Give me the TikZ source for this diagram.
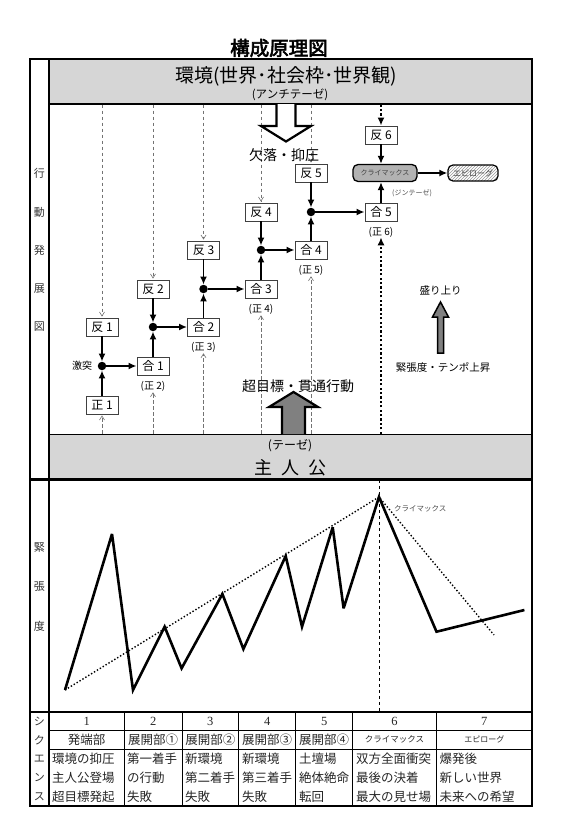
\documentclass[tikz,border=0pt]{standalone}
\usepackage{fontspec}
\setmainfont{Noto Sans CJK JP}
\newfontfamily\titlefont[FakeBold=3]{Noto Sans CJK JP}
\newfontfamily\numfont{Liberation Serif}
\usetikzlibrary{arrows.meta,positioning,patterns}
\tikzstyle{post}=[-{Latex[length=8pt,width=7pt]},line width=1.8pt]
\tikzstyle{fatdot}=[-{Latex[length=8pt,width=7pt]},line width=2.2pt,dash pattern=on 2.2pt off 2.2pt]
\tikzstyle{guide}=[-{Straight Barb[length=4pt,width=5pt]},black!55,line width=0.6pt,dash pattern=on 3.5pt off 2.5pt,shorten >=1pt]
\tikzstyle{box}=[draw=black!75,line width=0.9pt,fill=white,minimum width=32pt,minimum height=18pt,inner sep=0pt,font=\fontsize{12}{12}\selectfont]
\tikzstyle{dot}=[circle,fill=black,inner sep=0pt,minimum size=8.5pt]
\tikzstyle{band}=[draw,line width=1.2pt,fill=black!16,minimum width=483pt,minimum height=45pt,inner sep=0pt]
\tikzstyle{climaxbox}=[draw,line width=1.3pt,rounded corners=5pt,fill=black!30,minimum width=64pt,minimum height=17pt,inner sep=0pt,font=\fontsize{7}{7}\selectfont,text=black!75]
\tikzstyle{epibox}=[draw,line width=1.2pt,rounded corners=5pt,pattern=north east lines,pattern color=black!40,minimum width=50pt,minimum height=16pt,inner sep=0pt,font=\fontsize{8}{8}\selectfont,text=black!75]
\tikzstyle{frame}=[line width=2.4pt]
\tikzstyle{rule}=[line width=0.9pt]
\tikzstyle{fatarrow}=[line width=2.2pt,line join=miter]
\tikzstyle{lbl}=[font=\fontsize{10}{10}\selectfont,inner sep=0pt]
\tikzstyle{tiny}=[font=\fontsize{7}{7}\selectfont,text=black!70,inner sep=0pt]
\tikzstyle{side}=[font=\fontsize{11}{11}\selectfont,text=black!80,inner sep=0pt]
\tikzstyle{cell}=[font=\fontsize{12.5}{12.5}\selectfont,text=black!85,inner sep=0pt]
\begin{document}
\begin{tikzpicture}[x=1pt,y=-1pt,node distance=20pt]
\useasboundingbox (0,0) rectangle (567,836);
\node (title) at (279,48) {\titlefont\fontsize{19.5}{19.5}\selectfont 構成原理図};

% bands
\node (env) [band] at (290.5,81.5) {};
\node (hero) [band] at (290.5,456.8) {};
\node (envtext) at (286,76) {\fontsize{19}{19}\selectfont 環境(世界･社会枠･世界観)};
\node (anti) [font=\fontsize{11.5}{11.5}\selectfont,inner sep=0pt] at (290,95) {(アンチテーゼ)};
\node (these) [font=\fontsize{12}{12}\selectfont,inner sep=0pt] at (290,446) {(テーゼ)};
\node (herotext) at (290,468) {\fontsize{18}{18}\selectfont 主\hspace{9pt}人\hspace{9pt}公};

% side labels
\foreach \t/\y [count=\i] in {行/173,動/212,発/250,展/289,図/327,緊/548,張/587,度/626,シ/721,ク/740,エ/759,ン/778,ス/797}
  \node (side\i) [side] at (39.5,\y) {\t};

% dialectic steps
\node (s1) [box] at (102,405) {正 1};
\node (c1) [dot] at (102,366) {};
\node (h1) [box] at (102,327) {反 1};
\node (g1) [box] at (153,366) {合 1};
\node (c2) [dot] at (153,327) {};
\node (h2) [box] at (153,289) {反 2};
\node (g2) [box] at (203.5,327) {合 2};
\node (c3) [dot] at (203.5,289) {};
\node (h3) [box] at (203.5,250) {反 3};
\node (g3) [box] at (261,289) {合 3};
\node (c4) [dot] at (261,250) {};
\node (h4) [box] at (261,212) {反 4};
\node (g4) [box] at (311,250) {合 4};
\node (c5) [dot] at (311,212) {};
\node (h5) [box] at (311,173) {反 5};
\node (g5) [box] at (381,212) {合 5};
\node (h6) [box] at (381,135) {反 6};
\node (climax) [climaxbox] at (385,173) {クライマックス};
\node (epi) [epibox] at (473,173) {エピローグ};

\node (clash) [lbl, left of=c1] {激突};
\node (z2) [lbl, below of=g1] {(正 2)};
\node (z3) [lbl, below of=g2] {(正 3)};
\node (z4) [lbl, below of=g3] {(正 4)};
\node (z5) [lbl, below of=g4] {(正 5)};
\node (z6) [lbl, below of=g5] {(正 6)};
\node (syn) [tiny] at (412,193) {(ジンテーゼ)};

\foreach \n in {h1,h2,h3,h4,h5} \draw[guide] (\n.north |- env.south) -- (\n.north);
\foreach \n in {s1,z2,z3,z4,z5} \draw[guide] (\n.south |- hero.north) -- (\n.south);
\draw[fatdot] (h6.north |- env.south) -- (h6.north);
\draw[fatdot] (z6.south |- hero.north) -- (z6.south);

\path[post] (s1) edge (c1) (h1) edge (c1) (c1) edge (g1)
            (g1) edge (c2) (h2) edge (c2) (c2) edge (g2)
            (g2) edge (c3) (h3) edge (c3) (c3) edge (g3)
            (g3) edge (c4) (h4) edge (c4) (c4) edge (g4)
            (g4) edge (c5) (h5) edge (c5) (c5) edge (g5)
            (climax) edge (epi);
\draw[post] (g5) -- (g5 |- climax.south);
\draw[post] (h6) -- (h6 |- climax.north);

% big arrows
\draw[fatarrow, fill=white] (276.5,104) -- (276.5,126) -- (261,126) -- (286,141.5) -- (311,126) -- (295.5,126) -- (295.5,104);
\node (lack) at (284,155) {\fontsize{14}{14}\selectfont 欠落・抑圧};
\draw[fatarrow, fill=black!50] (282,434) -- (282,407) -- (269,407) -- (293.5,392) -- (318,407) -- (305,407) -- (305,434);
\node (goal) at (298,386) {\fontsize{14}{14}\selectfont 超目標・貫通行動};
\draw[line width=1.5pt, fill=black!50, line join=miter] (437.5,353) -- (437.5,317) -- (432.5,317) -- (440.5,302) -- (448.5,317) -- (443.5,317) -- (443.5,353) -- cycle;
\node (rise) [font=\fontsize{10.5}{10.5}\selectfont] at (440.5,290) {盛り上り};
\node (tempo) [font=\fontsize{10.5}{10.5}\selectfont] at (443,367) {緊張度・テンポ上昇};

% frame
\draw[frame] (30,59) rectangle (532,806);
\draw[frame] (49,59) -- (49,806);
\draw[frame] (30,479.3) -- (532,479.3);
\draw[frame] (30,712) -- (532,712);

% tension curve
\coordinate (peak) at (379,497);
\coordinate (tabtop) at (30,712);
\draw[dashed, line width=0.7pt] (peak |- hero.south) -- (peak |- tabtop);
\draw[line width=1.4pt, dash pattern=on 1.4pt off 2pt] (65,690) -- (peak) -- (494,635);
\draw[line width=2.6pt, line join=miter, miter limit=4] (65,690) -- (112,534) -- (133,690) -- (164.6,626.7) -- (181.6,668.3) -- (222.4,594) -- (243.4,649) -- (285.7,556) -- (302,626.7) -- (332.7,527.3) -- (343.6,608.3) -- (peak) -- (436.5,631.7) -- (524.4,610);
\node (peaktext) [tiny, font=\fontsize{7.5}{7.5}\selectfont, anchor=west] at (394,509) {クライマックス};

% sequence table
\draw[rule] (49,730) -- (532,730) (49,749) -- (532,749);
\foreach \x in {124.5,182,238.7,295.8,352.6,436.5} \draw[rule] (\x,712) -- (\x,806);
\foreach \x/\t [count=\i] in {86.7/発端部,153.2/展開部①,210.3/展開部②,267.2/展開部③,324.2/展開部④}{
  \node (num\i) [cell] at (\x,721) {\numfont\i};
  \node (part\i) [cell] at (\x,739.5) {\t};
}
\node (num6) [cell] at (394.6,721) {\numfont 6};
\node (num7) [cell] at (484.3,721) {\numfont 7};
\node (part6) [cell, font=\fontsize{8.5}{8.5}\selectfont] at (394.6,739.5) {クライマックス};
\node (part7) [cell, font=\fontsize{8}{8}\selectfont] at (484.3,739.5) {エピローグ};
\foreach \x/\a/\b/\c [count=\i] in {52/環境の抑圧/主人公登場/超目標発起,127/第一着手/の行動/失敗,185/新環境/第二着手/失敗,242/新環境/第三着手/失敗,299/土壇場/絶体絶命/転回,356/双方全面衝突/最後の決着/最大の見せ場,439.5/爆発後/新しい世界/未来への希望}{
  \node (ra\i) [cell, anchor=west] at (\x,758.5) {\a};
  \node (rb\i) [cell, anchor=west] at (\x,777.5) {\b};
  \node (rc\i) [cell, anchor=west] at (\x,796.5) {\c};
}
%\node at (283,820) {};
\end{tikzpicture}
\end{document}
